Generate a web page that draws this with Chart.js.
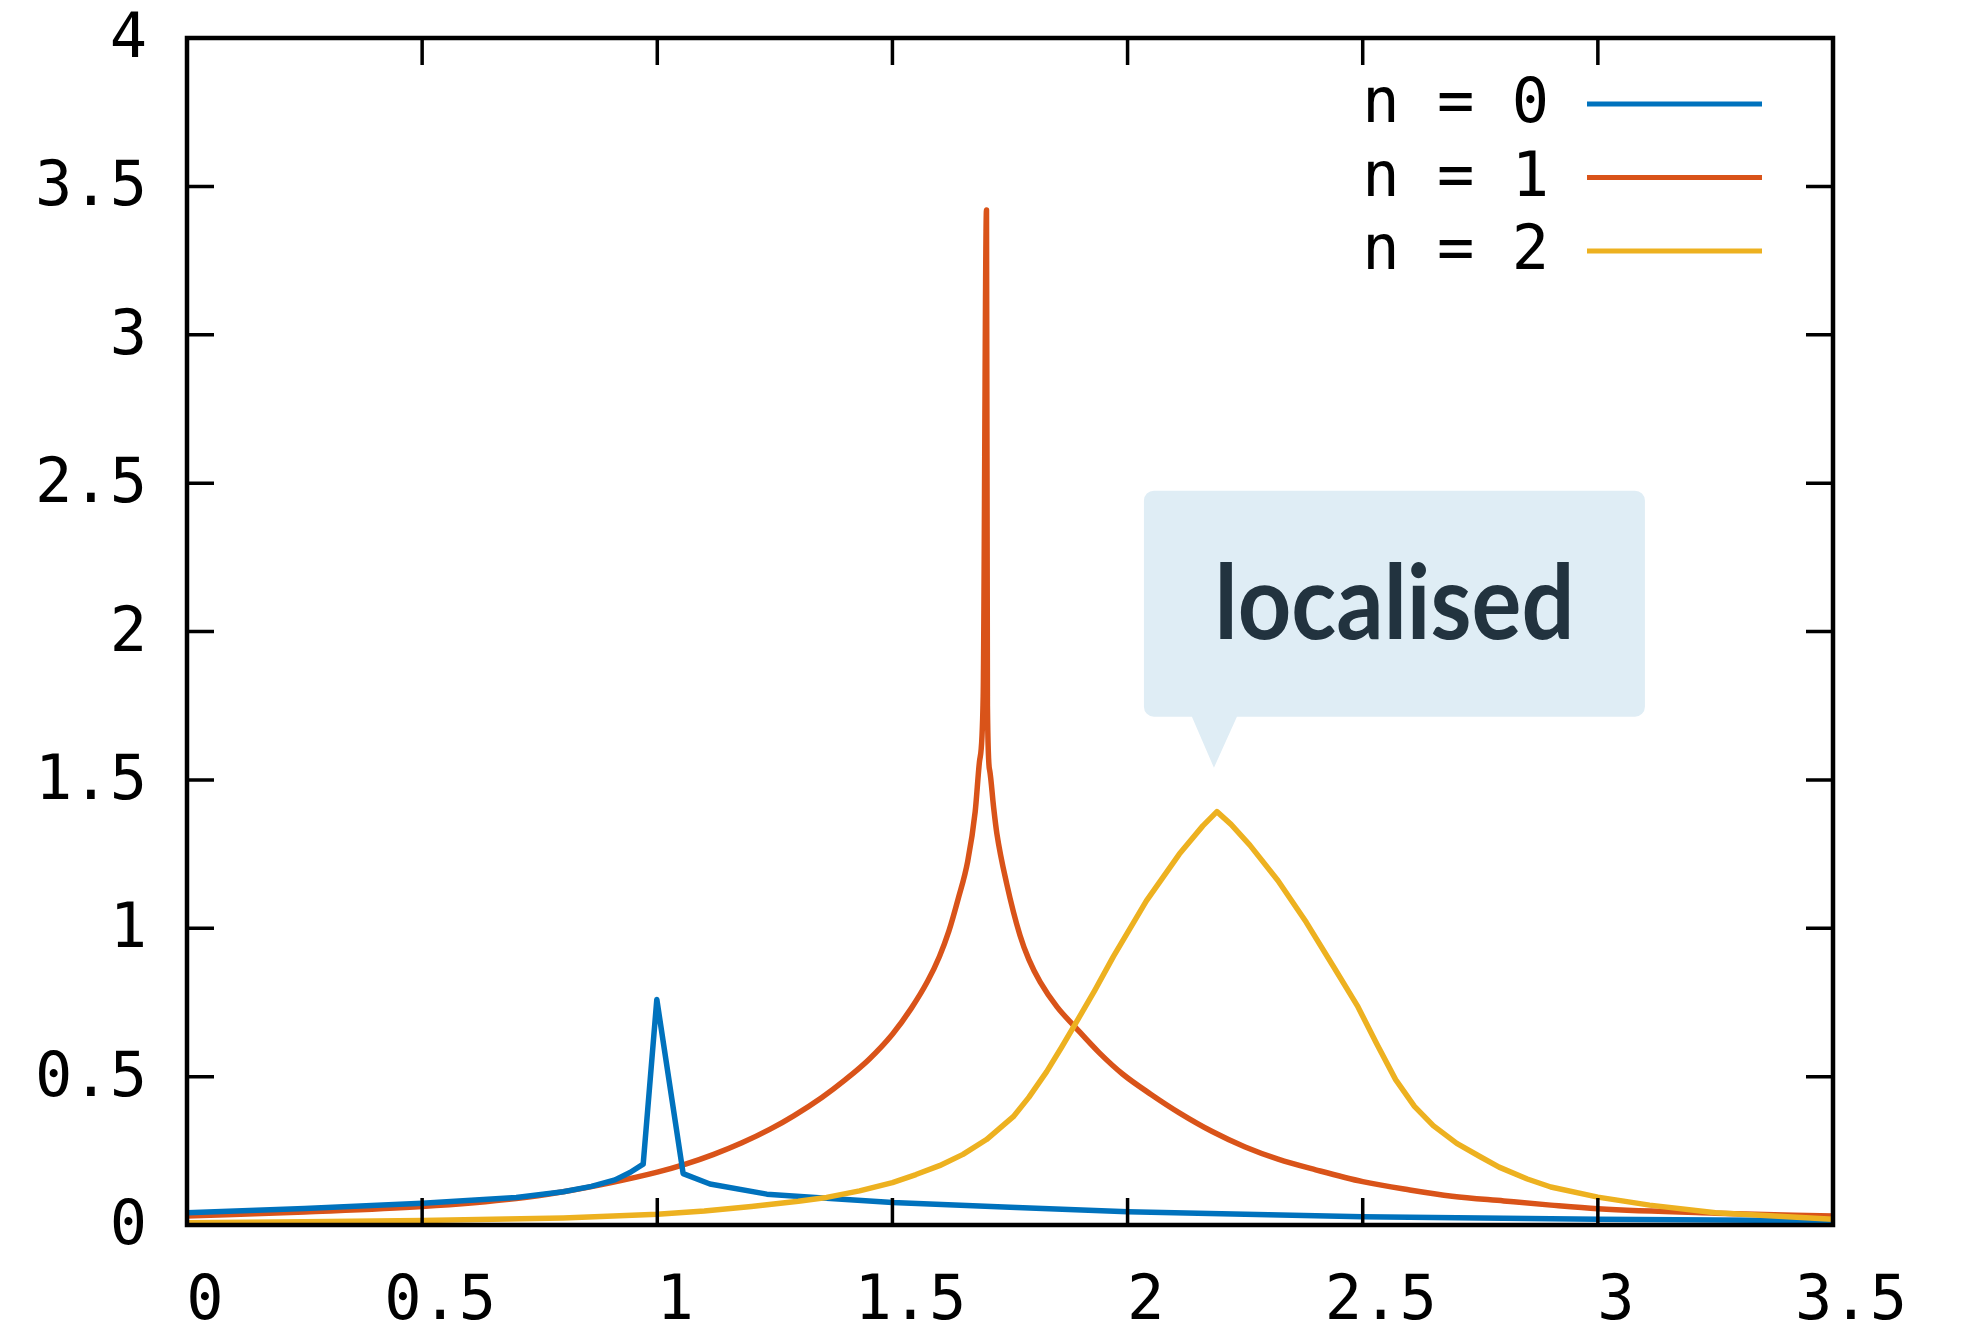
<!DOCTYPE html>
<html>
<head>
<meta charset="utf-8">
<title>Spectra by n</title>
<script src="https://cdn.jsdelivr.net/npm/chart.js@4.4.1/dist/chart.umd.min.js"></script>
<style>
  html, body { margin: 0; padding: 0; background: #fff; }
  #wrap { width: 1962px; height: 1329px; }
</style>
</head>
<body>
<div id="wrap"><canvas id="chart" width="1962" height="1329"></canvas></div>
<script>
// series labels and colours
const seriesLabels = ['n = 0', 'n = 1', 'n = 2'];
const seriesColors = ['#0072bd', '#d95319', '#edb120'];

// n = 0
const x0 = [0, 0.25, 0.5, 0.7, 0.8, 0.86, 0.91, 0.942, 0.970, 0.999, 1.055, 1.112, 1.233, 1.36, 1.5, 1.75, 2.0, 2.5, 3.0, 3.5];
const y0 = [0.041, 0.056, 0.073, 0.093, 0.112, 0.13, 0.152, 0.177, 0.205, 0.76, 0.173, 0.138, 0.104, 0.09, 0.076, 0.06, 0.045, 0.028, 0.019, 0.014];

// n = 1
const x1 = [0, 0.25, 0.5, 0.7, 0.8, 0.9, 1.0, 1.06, 1.12, 1.18, 1.24, 1.29, 1.35, 1.40, 1.45, 1.50, 1.54, 1.575, 1.60, 1.62, 1.64, 1.66, 1.676, 1.685, 1.693,
            1.700, 1.702, 1.707, 1.715, 1.722, 1.743, 1.771, 1.79, 1.814, 1.85, 1.888, 1.94, 1.99, 2.05, 2.11, 2.18, 2.25, 2.32, 2.4, 2.5, 2.6, 2.69, 2.8, 2.9, 3.0, 3.25, 3.5];
const y1 = [0.030, 0.044, 0.062, 0.089, 0.112, 0.142, 0.178, 0.205, 0.238, 0.277, 0.323, 0.368, 0.43, 0.49, 0.558, 0.643, 0.73, 0.822, 0.905, 0.99, 1.10, 1.225, 1.393, 1.56, 1.78,
            3.42, 1.75, 1.53, 1.41, 1.32, 1.15, 0.977, 0.895, 0.819, 0.735, 0.668, 0.58, 0.508, 0.44, 0.378, 0.315, 0.263, 0.222, 0.186, 0.146, 0.118, 0.097, 0.081, 0.067, 0.055, 0.04, 0.030];

// n = 2
const x2 = [0, 0.25, 0.5, 0.8, 1.0, 1.1, 1.2, 1.3, 1.36, 1.43, 1.5, 1.55, 1.6, 1.65, 1.7, 1.757, 1.79, 1.828, 1.86, 1.888, 1.93, 1.97, 2.04, 2.11, 2.16, 2.19,
            2.22, 2.26, 2.32, 2.38, 2.44, 2.49, 2.53, 2.57, 2.61, 2.65, 2.7, 2.75, 2.79, 2.85, 2.9, 3.0, 3.11, 3.25, 3.5];
const y2 = [0.008, 0.011, 0.015, 0.024, 0.036, 0.047, 0.062, 0.08, 0.093, 0.115, 0.143, 0.17, 0.200, 0.238, 0.288, 0.365, 0.43, 0.517, 0.60, 0.675, 0.79, 0.905, 1.092, 1.25, 1.345, 1.393,
            1.35, 1.28, 1.16, 1.02, 0.865, 0.735, 0.61, 0.49, 0.40, 0.335, 0.275, 0.23, 0.195, 0.155, 0.128, 0.094, 0.067, 0.041, 0.019];

const xTickLabels = ['0', '0.5', '1', '1.5', '2', '2.5', '3', '3.5'];
const yTickLabels = ['0', '0.5', '1', '1.5', '2', '2.5', '3', '3.5', '4'];

const calloutText = 'localised';

const monoFont = { family: '"DejaVu Sans Mono", monospace', size: 62 };

function toPoints(xs, ys) {
    return xs.map((x, i) => ({ x: x, y: ys[i] }));
}

// border, inward ticks, key and the callout over the n = 2 peak
const frameAndKey = {
    id: 'frameAndKey',
    afterDatasetsDraw(chart) {
        const ctx = chart.ctx;
        const a = chart.chartArea;
        const xs = chart.scales.x;
        const ys = chart.scales.y;
        const tickLen = 27;

        ctx.save();
        ctx.strokeStyle = '#000';
        ctx.lineWidth = 3.5;
        ctx.beginPath();
        xs.ticks.forEach(t => {
            const px = xs.getPixelForValue(t.value);
            ctx.moveTo(px, a.bottom); ctx.lineTo(px, a.bottom - tickLen);
            ctx.moveTo(px, a.top); ctx.lineTo(px, a.top + tickLen);
        });
        ys.ticks.forEach(t => {
            const py = ys.getPixelForValue(t.value);
            ctx.moveTo(a.left, py); ctx.lineTo(a.left + tickLen, py);
            ctx.moveTo(a.right, py); ctx.lineTo(a.right - tickLen, py);
        });
        ctx.stroke();
        ctx.lineWidth = 4.5;
        ctx.strokeRect(a.left, a.top, a.right - a.left, a.bottom - a.top);

        // key: text on the left, sample line on the right
        ctx.font = monoFont.size + 'px ' + monoFont.family;
        ctx.textAlign = 'right';
        ctx.textBaseline = 'middle';
        chart.data.datasets.forEach((ds, i) => {
            const rowY = a.top + 66 + i * 73.5;
            const lineEnd = a.right - 71;
            const lineStart = lineEnd - 175;
            ctx.fillStyle = '#000';
            ctx.fillText(ds.label, lineStart - 38, rowY + 2);
            ctx.strokeStyle = ds.borderColor;
            ctx.lineWidth = 5;
            ctx.beginPath();
            ctx.moveTo(lineStart, rowY);
            ctx.lineTo(lineEnd, rowY);
            ctx.stroke();
        });

        // callout pointing at the n = 2 maximum
        let peak = 0;
        y2.forEach((v, i) => { if (v > y2[peak]) peak = i; });
        const tipX = xs.getPixelForValue(x2[peak]) - 3;
        const tipY = ys.getPixelForValue(y2[peak]) - 44;
        const bx = tipX - 70, by = tipY - 277, bw = 501, bh = 226, r = 10;
        ctx.fillStyle = '#dfedf5';
        ctx.beginPath();
        ctx.moveTo(bx + r, by);
        ctx.lineTo(bx + bw - r, by);
        ctx.arcTo(bx + bw, by, bx + bw, by + r, r);
        ctx.lineTo(bx + bw, by + bh - r);
        ctx.arcTo(bx + bw, by + bh, bx + bw - r, by + bh, r);
        ctx.lineTo(tipX + 23, by + bh);
        ctx.lineTo(tipX, tipY);
        ctx.lineTo(tipX - 22, by + bh);
        ctx.lineTo(bx + r, by + bh);
        ctx.arcTo(bx, by + bh, bx, by + bh - r, r);
        ctx.lineTo(bx, by + r);
        ctx.arcTo(bx, by, bx + r, by, r);
        ctx.closePath();
        ctx.fill();

        ctx.font = 'bold 104px Lato, "Open Sans", sans-serif';
        ctx.fillStyle = '#22333f';
        ctx.textAlign = 'center';
        ctx.textBaseline = 'alphabetic';
        const w = ctx.measureText(calloutText).width;
        const sx = 360 / w;
        ctx.translate(bx + bw / 2, by + 148);
        ctx.scale(sx, 1);
        ctx.fillText(calloutText, 0, 0);
        ctx.restore();
    }
};

const ctx = document.getElementById('chart').getContext('2d');
const chart = new Chart(ctx, {
    type: 'line',
    data: {
        datasets: [
            { label: seriesLabels[0], data: toPoints(x0, y0), borderColor: seriesColors[0], order: 1 },
            { label: seriesLabels[1], data: toPoints(x1, y1), borderColor: seriesColors[1], order: 2, cubicInterpolationMode: 'monotone' },
            { label: seriesLabels[2], data: toPoints(x2, y2), borderColor: seriesColors[2], order: 0 }
        ]
    },
    options: {
        responsive: false,
        animation: false,
        events: [],
        layout: { padding: { left: 0, top: 38, right: 129, bottom: 0 } },
        elements: {
            line: { borderWidth: 5.5, tension: 0, fill: false, borderJoinStyle: 'round' },
            point: { radius: 0 }
        },
        plugins: {
            legend: { display: false },
            tooltip: { enabled: false }
        },
        scales: {
            x: {
                type: 'linear',
                min: 0,
                max: 3.5,
                grid: { display: false, drawTicks: false },
                border: { display: false },
                ticks: {
                    stepSize: 0.5,
                    font: monoFont,
                    color: '#000',
                    padding: 41,
                    labelOffset: 18,
                    maxRotation: 0,
                    autoSkip: false,
                    callback: (v, i) => xTickLabels[i]
                },
                afterFit: s => {
                    s.height = 104;
                    s.paddingLeft = 0;
                    s.paddingRight = 0;
                }
            },
            y: {
                min: 0,
                max: 4,
                grid: { display: false, drawTicks: false },
                border: { display: false },
                ticks: {
                    stepSize: 0.5,
                    font: monoFont,
                    color: '#000',
                    padding: 40,
                    labelOffset: 3,
                    autoSkip: false,
                    callback: (v, i) => yTickLabels[i]
                },
                afterFit: s => {
                    s.width = 187;
                    s.paddingTop = 0;
                    s.paddingBottom = 0;
                }
            }
        }
    },
    plugins: [frameAndKey]
});
</script>
</body>
</html>
